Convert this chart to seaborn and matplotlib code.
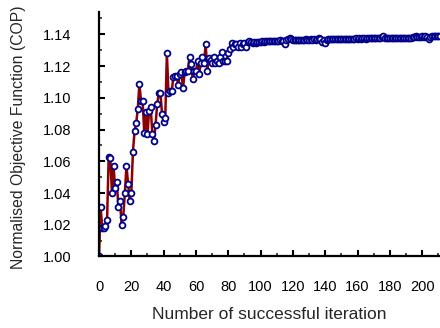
import matplotlib
matplotlib.use("Agg")
import matplotlib.pyplot as plt
import seaborn as sns
import pandas as pd
from matplotlib.ticker import MultipleLocator, FormatStrFormatter

# ---- data ----
cop_start = [
    1.000, 1.031, 1.018, 1.018, 1.019, 1.023, 1.063, 1.062, 1.040, 1.057,
    1.043, 1.047, 1.031, 1.035, 1.020, 1.025, 1.040, 1.057, 1.046, 1.035,
    1.040, 1.066, 1.079, 1.084, 1.093, 1.109, 1.098, 1.098, 1.078, 1.091,
    1.077, 1.092, 1.094, 1.077, 1.073, 1.083, 1.096, 1.103, 1.103, 1.090,
    1.085, 1.087, 1.128, 1.103, 1.104, 1.104, 1.113, 1.114, 1.114, 1.108,
    1.115, 1.116, 1.106, 1.116, 1.117, 1.117, 1.126, 1.121, 1.112, 1.117,
    1.117, 1.123, 1.115, 1.122, 1.126, 1.122, 1.134, 1.117, 1.125, 1.124,
    1.122, 1.126, 1.122, 1.123, 1.122, 1.126, 1.129, 1.123, 1.123, 1.123,
    1.128, 1.131, 1.1345, 1.132, 1.134, 1.134, 1.132, 1.1345, 1.132, 1.134,
    1.1345, 1.132, 1.135, 1.136, 1.135, 1.1345, 1.135,
]
cop_tail = [
    1.1345, 1.135, 1.1352, 1.135, 1.1355, 1.1352, 1.1355, 1.1358, 1.1355,
    1.1358, 1.136, 1.1358, 1.136, 1.1358, 1.136, 1.1362, 1.1358, 1.136, 1.1338, 1.1362, 1.1368,
    1.1375, 1.137, 1.1365, 1.1365, 1.1362, 1.1365, 1.1365, 1.1362, 1.1365, 1.1365, 1.1368,
    1.1365, 1.1365, 1.1368, 1.1365, 1.1368, 1.1365,
    1.1372, 1.1378, 1.1368, 1.1352, 1.1365, 1.1348, 1.1362, 1.1368, 1.1368, 1.1368,
    1.1368, 1.137, 1.1368, 1.137, 1.137, 1.1372, 1.137, 1.1372, 1.137, 1.1372,
    1.1372, 1.137, 1.1372, 1.1372, 1.1374, 1.1372, 1.1374, 1.1372, 1.1374, 1.1374,
    1.1372, 1.1374, 1.1374, 1.1376, 1.1374, 1.1374, 1.1376, 1.1376, 1.1374, 1.1376,
    1.1385, 1.1392, 1.138,
    1.1376, 1.1378, 1.1376, 1.1378, 1.1378, 1.1376, 1.1378, 1.1378, 1.138, 1.1378,
    1.1378, 1.138, 1.1378, 1.138, 1.138, 1.138,
    1.1382, 1.1385, 1.139, 1.1385, 1.1382, 1.1385, 1.1388, 1.1385, 1.1388, 1.1385,
    1.1368, 1.1385, 1.139, 1.1388, 1.139, 1.1388, 1.139, 1.139,
]
cop_values = cop_start + cop_tail
iterations = list(range(len(cop_values)))

x_label = "Number of successful iteration"
y_label = "Normalised Objective Function (COP)"

df = pd.DataFrame({"iteration": iterations, "cop": cop_values})

sns.set_style("ticks")
plt.rcParams["font.family"] = ["Liberation Sans", "DejaVu Sans"]

fig = plt.figure(figsize=(4.4, 3.28), dpi=100)
ax = fig.add_axes([0.225, 0.218, 0.775, 0.745])

sns.lineplot(data=df, x="iteration", y="cop", ax=ax, color="#8B0000",
             linewidth=1.8, marker="o", markersize=4.2,
             markerfacecolor="white", markeredgecolor="#00008B",
             markeredgewidth=1.3, estimator=None, sort=False)

ax.set_xlim(0, 211)
ax.set_ylim(1.0, 1.154)
ax.xaxis.set_major_locator(MultipleLocator(20))
ax.xaxis.set_minor_locator(MultipleLocator(10))
ax.yaxis.set_major_locator(MultipleLocator(0.02))
ax.yaxis.set_minor_locator(MultipleLocator(0.01))
ax.yaxis.set_major_formatter(FormatStrFormatter("%.2f"))

for s in ["top", "right"]:
    ax.spines[s].set_visible(False)
for s in ["left", "bottom"]:
    ax.spines[s].set_linewidth(1.6)
    ax.spines[s].set_color("black")

ax.tick_params(which="major", direction="in", length=4, width=1.5,
               labelsize=10.5, colors="black")
ax.tick_params(which="minor", direction="in", length=2, width=1.2)
ax.tick_params(axis="y", which="major", pad=20)
ax.tick_params(axis="x", which="major", pad=17)

ax.set_xlabel(x_label, fontsize=12.5, labelpad=9)
ax.set_ylabel(y_label, fontsize=11.3, labelpad=12)
ax.yaxis.label.set_y(0.49)

fig.savefig("out.png", dpi=100)
